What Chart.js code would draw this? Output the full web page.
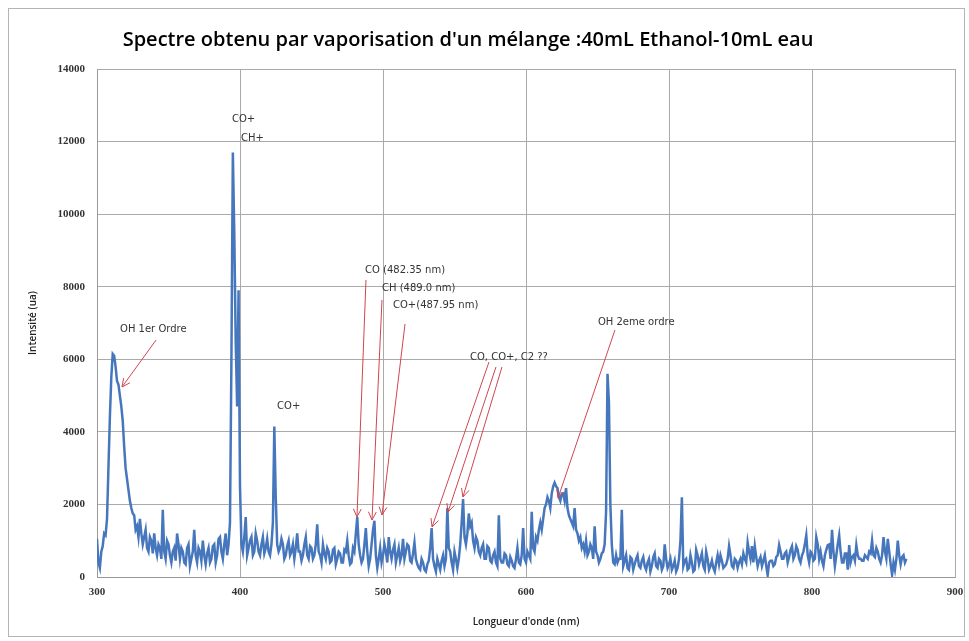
<!DOCTYPE html>
<html>
<head>
<meta charset="utf-8">
<script src="https://cdn.jsdelivr.net/npm/chart.js@4"></script>
<style>
  html, body { margin: 0; padding: 0; background: #fff; }
  #wrap { width: 969px; height: 641px; position: relative; }
</style>
</head>
<body>
<div id="wrap"><canvas id="spectre-chart" width="969" height="641"></canvas></div>
<script>
const chartTitle = "Spectre obtenu par vaporisation d'un mélange :40mL Ethanol-10mL eau";
const xTitle = "Longueur d'onde (nm)";
const yTitle = 'Intensité (ua)';

// wavelength grid of the measured points (nm)
const startNm = 300;
const stepNm = 1;

// intensity, one value per nm from 300 nm (20 per row)
const intensity = [
  1050, 400, 250, 700, 850, 1200, 1150, 1600, 3000, 4400, 5500, 6150, 6100, 5800, 5400, 5300, 5000, 4700, 4300, 3600,     // 300
  3000, 2700, 2400, 2100, 1900, 1750, 1700, 1300, 1400, 1100, 1600, 1200, 900, 1100, 1300, 800, 700, 1100, 1000, 650,    // 320
  1200, 800, 600, 900, 800, 500, 1850, 700, 500, 1000, 900, 600, 400, 700, 800, 450, 1200, 900, 500, 800,                 // 340
  700, 400, 350, 800, 900, 300, 500, 700, 1300, 600, 400, 800, 700, 450, 1000, 600, 350, 650, 800, 400,                   // 360
  500, 850, 900, 400, 600, 1050, 1100, 700, 500, 900, 1200, 600, 900, 1500, 6000, 11700, 9500, 6500, 4700, 7900,          // 380
  2500, 900, 700, 1100, 1650, 600, 800, 1000, 1100, 600, 700, 1200, 1000, 700, 600, 900, 1100, 650, 800, 1050,            // 400
  700, 600, 900, 1500, 4150, 2200, 900, 700, 800, 1050, 900, 500, 600, 850, 1000, 600, 700, 900, 500, 800,                // 420
  1200, 700, 700, 450, 600, 900, 1100, 600, 500, 850, 800, 500, 600, 900, 1450, 700, 600, 400, 900, 650,                  // 440
  500, 800, 700, 400, 450, 750, 800, 350, 500, 700, 650, 400, 400, 750, 700, 1000, 600, 350, 400, 800,                    // 460
  700, 1200, 1650, 900, 600, 400, 500, 900, 1350, 700, 300, 500, 900, 1300, 1550, 600, 250, 500, 800, 400,                // 480
  600, 900, 700, 400, 1100, 700, 500, 750, 900, 400, 600, 800, 450, 600, 1050, 500, 700, 900, 850, 450,                   // 500
  400, 650, 950, 500, 350, 250, 200, 500, 400, 200, 150, 350, 450, 800, 1350, 500, 300, 150, 500, 350,                    // 520
  200, 450, 600, 300, 500, 1900, 800, 700, 400, 200, 700, 500, 250, 500, 900, 1500, 2150, 1100, 900, 1200,                // 540
  1750, 1400, 1500, 1000, 800, 1100, 1000, 700, 600, 800, 900, 500, 500, 850, 800, 450, 400, 600, 700, 400,               // 560
  300, 1700, 500, 400, 400, 650, 600, 350, 300, 550, 450, 300, 250, 500, 800, 400, 350, 600, 1350, 500,                   // 580
  400, 700, 600, 500, 1800, 800, 700, 1100, 1000, 1300, 1500, 1300, 1600, 1900, 2000, 2200, 2100, 1900, 2300, 2500,       // 600
  2600, 2500, 2450, 2200, 2100, 2300, 2300, 2100, 2450, 1900, 1700, 1600, 1500, 1400, 1900, 1300, 1200, 1000, 1100, 800,  // 620
  900, 700, 1000, 600, 700, 900, 800, 500, 1400, 700, 600, 400, 500, 650, 700, 900, 1800, 5600, 4800, 2000,               // 640
  900, 400, 350, 600, 400, 500, 500, 1850, 300, 450, 600, 250, 200, 550, 500, 200, 350, 500, 600, 300,                    // 660
  250, 450, 550, 300, 200, 400, 500, 150, 300, 550, 650, 300, 250, 500, 450, 200, 300, 900, 500, 250,                     // 680
  350, 500, 200, 300, 450, 150, 250, 500, 1000, 2200, 300, 450, 500, 200, 250, 600, 400, 150, 200, 750,                   // 700
  600, 350, 500, 650, 300, 200, 700, 500, 200, 300, 450, 250, 150, 400, 600, 350, 600, 450, 250, 300,                     // 720
  350, 500, 850, 600, 300, 250, 500, 450, 250, 400, 500, 350, 650, 500, 400, 950, 700, 500, 850, 400,                     // 740
  850, 550, 300, 450, 550, 300, 450, 600, 300, 50, 400, 450, 450, 300, 350, 550, 600, 880, 700, 500,                      // 760
  500, 650, 700, 400, 550, 750, 850, 500, 600, 850, 750, 500, 400, 600, 700, 900, 1150, 600, 400, 700,                    // 780
  650, 450, 500, 1100, 900, 500, 700, 450, 300, 600, 750, 880, 900, 500, 1300, 700, 300, 600, 900, 1150,                  // 800
  700, 400, 400, 650, 650, 200, 880, 400, 550, 600, 450, 880, 600, 500, 500, 450, 450, 600, 550, 500,                     // 820
  700, 650, 1000, 600, 550, 800, 700, 500, 400, 600, 1100, 700, 500, 1050, 700, 350, 60, 400, 200, 500,                   // 840
  1000, 600, 350, 550, 600, 400, 500                                                                                       // 860
];

// annotation labels and arrows, in data units (nm, intensity)
const labels = [
  { text: 'OH 1er Ordre', x: 316.1, y: 6835 },
  { text: 'CO+', x: 394.4, y: 12620 },
  { text: 'CH+', x: 400.7, y: 12100 },
  { text: 'CO+', x: 425.9, y: 4710 },
  { text: 'CO (482.35 nm)', x: 487.4, y: 8460 },
  { text: 'CH (489.0 nm)', x: 499.3, y: 7965 },
  { text: 'CO+(487.95 nm)', x: 507.0, y: 7495 },
  { text: 'CO, CO+, C2 ??', x: 560.8, y: 6063 },
  { text: 'OH 2eme ordre', x: 650.3, y: 7030 }
];
const arrows = [
  { from: [341.3, 6530], to: [317.5, 5236] },
  { from: [488.1, 8185], to: [481.8, 1654] },
  { from: [499.3, 7634], to: [492.3, 1571] },
  { from: [515.4, 6973], to: [499.3, 1709] },
  { from: [574.1, 5925], to: [534.3, 1378] },
  { from: [579.0, 5788], to: [545.5, 1791] },
  { from: [583.2, 5788], to: [555.9, 2205] },
  { from: [662.2, 6807], to: [622.4, 2177] }
];

const points = intensity.map((v, i) => ({ x: startNm + i * stepNm, y: v }));

const annotationPlugin = {
  id: 'annotations',
  afterDraw(chart) {
    const { ctx, scales: { x, y } } = chart;
    ctx.save();

    // outer frame of the chart
    ctx.strokeStyle = '#b4b4b4';
    ctx.lineWidth = 1;
    ctx.strokeRect(8.5, 8.5, 956, 628);

    // title
    ctx.fillStyle = '#000';
    ctx.font = '600 20px "Open Sans", sans-serif';
    ctx.textAlign = 'center';
    ctx.textBaseline = 'middle';
    ctx.fillText(chartTitle, 468, 40);

    // arrows
    ctx.strokeStyle = '#d0454f';
    ctx.lineWidth = 1;
    arrows.forEach((a) => {
      const x1 = x.getPixelForValue(a.from[0]);
      const y1 = y.getPixelForValue(a.from[1]);
      const x2 = x.getPixelForValue(a.to[0]);
      const y2 = y.getPixelForValue(a.to[1]);
      const ang = Math.atan2(y2 - y1, x2 - x1);
      ctx.beginPath();
      ctx.moveTo(x1, y1);
      ctx.lineTo(x2, y2);
      ctx.moveTo(x2 - 9 * Math.cos(ang - 0.45), y2 - 9 * Math.sin(ang - 0.45));
      ctx.lineTo(x2, y2);
      ctx.lineTo(x2 - 9 * Math.cos(ang + 0.45), y2 - 9 * Math.sin(ang + 0.45));
      ctx.stroke();
    });

    // labels
    ctx.fillStyle = '#333';
    ctx.font = '10px "DejaVu Sans", sans-serif';
    ctx.textAlign = 'left';
    labels.forEach((l) => {
      ctx.fillText(l.text, x.getPixelForValue(l.x), y.getPixelForValue(l.y));
    });

    ctx.restore();
  }
};

const tickFont = { family: '"Liberation Serif", serif', size: 11, weight: 'bold' };
const axisTitleFont = { family: '"Open Sans", sans-serif', size: 10, weight: '600' };

const ctx = document.getElementById('spectre-chart').getContext('2d');
new Chart(ctx, {
  type: 'line',
  data: {
    datasets: [{
      data: points,
      borderColor: '#4677bd',
      borderWidth: 2.5,
      pointRadius: 0,
      tension: 0,
      fill: false
    }]
  },
  options: {
    responsive: false,
    animation: false,
    layout: { padding: { top: 69, right: 0, bottom: 0, left: 0 } },
    plugins: {
      legend: { display: false },
      tooltip: { enabled: false }
    },
    scales: {
      x: {
        type: 'linear',
        min: 300,
        max: 900,
        afterFit: (s) => { s.height = 64; s.paddingRight = 14; s.paddingLeft = 0; },
        ticks: {
          stepSize: 100,
          padding: 9,
          color: '#333',
          font: tickFont,
          callback: (v) => String(v)
        },
        grid: { color: '#aaaaaa', drawTicks: false },
        border: { color: '#999999' },
        title: {
          display: true,
          text: xTitle,
          color: '#222',
          padding: { top: 4, bottom: 13 },
          font: axisTitleFont
        }
      },
      y: {
        min: 0,
        max: 14000,
        afterFit: (s) => { s.width = 97; },
        ticks: {
          stepSize: 2000,
          padding: 12,
          color: '#333',
          font: tickFont,
          callback: (v) => String(v)
        },
        grid: { color: '#aaaaaa', drawTicks: false },
        border: { color: '#999999' },
        title: {
          display: true,
          text: yTitle,
          color: '#222',
          padding: { top: 27, bottom: 4 },
          font: axisTitleFont
        }
      }
    }
  },
  plugins: [annotationPlugin]
});
</script>
</body>
</html>
